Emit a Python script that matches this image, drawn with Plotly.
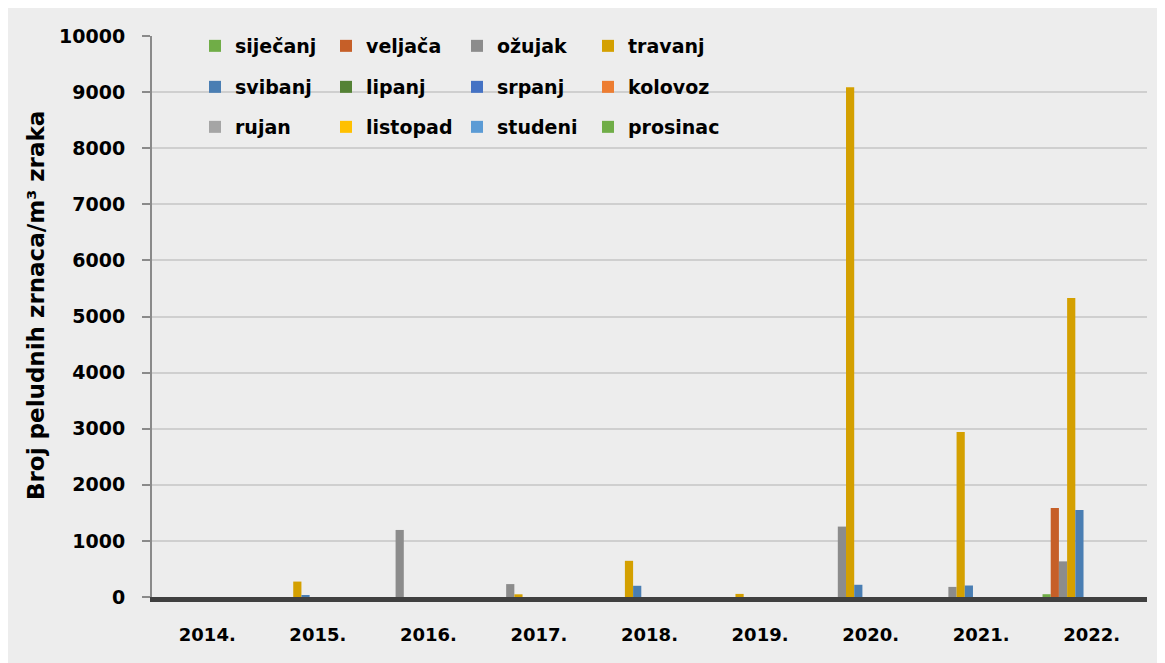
import plotly.graph_objects as go

years = ["2014.", "2015.", "2016.", "2017.", "2018.", "2019.", "2020.", "2021.", "2022."]

months = ["siječanj", "veljača", "ožujak", "travanj", "svibanj", "lipanj",
          "srpanj", "kolovoz", "rujan", "listopad", "studeni", "prosinac"]

sijecanj = [0, 0, 0, 0, 0, 0, 0, 0, 50]
veljaca = [0, 0, 0, 0, 0, 0, 0, 0, 1585]
ozujak = [0, 0, 1195, 230, 0, 0, 1255, 180, 635]
travanj = [0, 275, 0, 48, 645, 55, 9085, 2940, 5330]
svibanj = [0, 25, 0, 0, 200, 0, 218, 205, 1550]
lipanj = [0, 0, 0, 0, 0, 0, 0, 0, 0]
srpanj = [0, 0, 0, 0, 0, 0, 0, 0, 0]
kolovoz = [0, 0, 0, 0, 0, 0, 0, 0, 0]
rujan = [0, 0, 0, 0, 0, 0, 0, 0, 0]
listopad = [0, 0, 0, 0, 0, 0, 0, 0, 0]
studeni = [0, 0, 0, 0, 0, 0, 0, 0, 0]
prosinac = [0, 0, 0, 0, 0, 0, 0, 0, 0]

series = [sijecanj, veljaca, ozujak, travanj, svibanj, lipanj,
          srpanj, kolovoz, rujan, listopad, studeni, prosinac]

colors = ["#70AD47", "#C65F28", "#8C8C8C", "#D4A000", "#4A7EB3", "#548235",
          "#4472C4", "#ED7D31", "#A5A5A5", "#FFC000", "#5B9BD5", "#70AD47"]

y_title = "Broj peludnih zrnaca/m³ zraka"

FONT = "DejaVu Sans"
OFF = 8  # page body margin
W, H = 1165, 663
ML, MR, MT, MB = 144, 26, 28, 74
PW = W - ML - MR
PH = H - MT - MB


def px_x(p):
    # p in screen pixels
    return (p - OFF - ML) / PW


def px_y(p):
    return (H - MB - (p - OFF)) / PH


fig = go.Figure()
legend_names = ["legend", "legend2", "legend3"]
for i, (name, vals, col) in enumerate(zip(months, series, colors)):
    fig.add_trace(go.Bar(
        x=years, y=vals, name=name,
        marker=dict(color=col, line=dict(width=0)),
        legend=legend_names[i // 4],
    ))

legend_common = dict(
    orientation="h",
    font=dict(family=FONT, size=19, color="#000000", weight="bold"),
    bgcolor="rgba(0,0,0,0)",
    entrywidth=86,
    entrywidthmode="pixels",
    xanchor="left",
    yanchor="middle",
    x=px_x(195),
    itemclick=False,
)

fig.update_layout(
    width=W, height=H,
    margin=dict(l=ML, r=MR, t=MT, b=MB),
    paper_bgcolor="#EDEDED",
    plot_bgcolor="#EDEDED",
    barmode="group",
    bargap=0.11,
    bargroupgap=0,
    legend=dict(legend_common, y=px_y(46)),
    legend2=dict(legend_common, y=px_y(87)),
    legend3=dict(legend_common, y=px_y(127)),
    xaxis=dict(
        showline=True, linecolor="#404040", linewidth=5,
        ticks="", showgrid=False,
        tickfont=dict(family=FONT, size=18, color="#000000", weight="bold"),
        ticklabelstandoff=17,
    ),
    yaxis=dict(
        range=[0, 10000], dtick=1000, tickformat="d",
        showline=True, linecolor="#8A8A8A", linewidth=2,
        ticks="outside", ticklen=8, tickcolor="#8A8A8A", tickwidth=2,
        showgrid=True, gridcolor="#CFCFCF", gridwidth=2,
        zeroline=False,
        tickfont=dict(family=FONT, size=19, color="#000000", weight="bold"),
        ticklabelstandoff=13,
    ),
    annotations=[dict(
        text=y_title, textangle=-90, showarrow=False,
        xref="paper", yref="paper", x=px_x(36), y=px_y(306),
        xanchor="center", yanchor="middle",
        font=dict(family=FONT, size=23, color="#000000", weight="bold"),
    )],
)

fig.write_html("out.html")
